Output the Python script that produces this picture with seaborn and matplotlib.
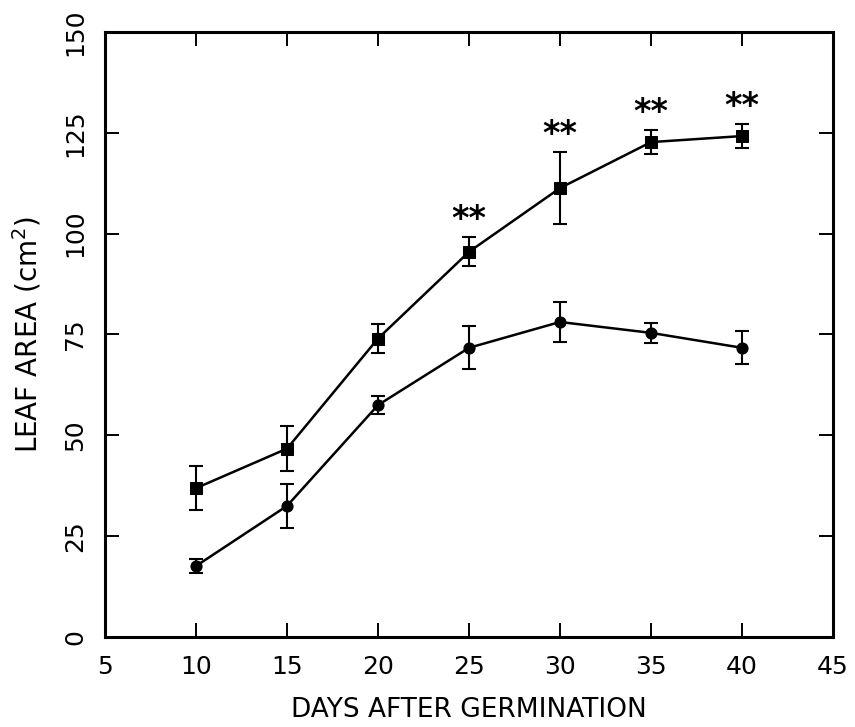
import matplotlib
matplotlib.use("Agg")
import matplotlib.pyplot as plt
import seaborn as sns
import pandas as pd

days = [10, 15, 20, 25, 30, 35, 40]
upper_mean = [36.9, 46.7, 74.0, 95.5, 111.3, 122.7, 124.2]
upper_err = [5.5, 5.5, 3.5, 3.6, 9.0, 3.0, 3.0]
lower_mean = [17.6, 32.5, 57.5, 71.7, 78.1, 75.4, 71.7]
lower_err = [1.8, 5.5, 2.2, 5.3, 4.9, 2.4, 4.1]
signif_days = [25, 30, 35, 40]
signif_labels = ["**", "**", "**", "**"]
x_ticks = [5, 10, 15, 20, 25, 30, 35, 40, 45]
y_ticks = [0, 25, 50, 75, 100, 125, 150]

sns.set_style("ticks")
plt.rcParams["font.family"] = ["DejaVu Sans"]
plt.rcParams["text.color"] = "black"
plt.rcParams["axes.labelcolor"] = "black"
plt.rcParams["xtick.color"] = "black"
plt.rcParams["ytick.color"] = "black"

df = pd.DataFrame({
    "day": days * 2,
    "area": upper_mean + lower_mean,
    "group": ["upper"] * len(days) + ["lower"] * len(days),
})

fig = plt.figure(figsize=(8.55, 7.27), dpi=100)
ax = fig.add_axes([0.1228, 0.1238, 0.8515, 0.8322])

sns.lineplot(data=df, x="day", y="area", hue="group", style="group",
             markers={"upper": "s", "lower": "o"}, dashes=False,
             palette={"upper": "black", "lower": "black"},
             markersize=8, linewidth=1.8, legend=False, ax=ax,
             markeredgecolor="black")

ax.errorbar(days, upper_mean, yerr=upper_err, fmt="none", ecolor="black",
            elinewidth=1.5, capsize=5, capthick=1.5)
ax.errorbar(days, lower_mean, yerr=lower_err, fmt="none", ecolor="black",
            elinewidth=1.5, capsize=5, capthick=1.5)

for d, lab in zip(signif_days, signif_labels):
    i = days.index(d)
    top = upper_mean[i] + upper_err[i]
    ax.text(d, top + 2.0, lab, ha="center", va="baseline",
            fontsize=24, fontweight="bold", color="black")

ax.set_xlim(5, 45)
ax.set_ylim(0, 150)
ax.set_xticks(x_ticks)
ax.set_yticks(y_ticks)
ax.set_xticklabels([str(t) for t in x_ticks], fontsize=18)
ax.set_yticklabels([str(t) for t in y_ticks], fontsize=18,
                   rotation=90, va="center")

ax.tick_params(direction="in", length=10, width=1.4, top=True, right=True,
               color="black")
ax.tick_params(axis="x", pad=13)
ax.tick_params(axis="y", pad=13)
for sp in ax.spines.values():
    sp.set_visible(True)
    sp.set_linewidth(2.2)
    sp.set_color("black")

ax.set_xlabel("DAYS AFTER GERMINATION", fontsize=19, labelpad=13)
ax.set_ylabel("LEAF AREA (cm$^2$)", fontsize=20, labelpad=14)

fig.savefig("out.png", dpi=100)
